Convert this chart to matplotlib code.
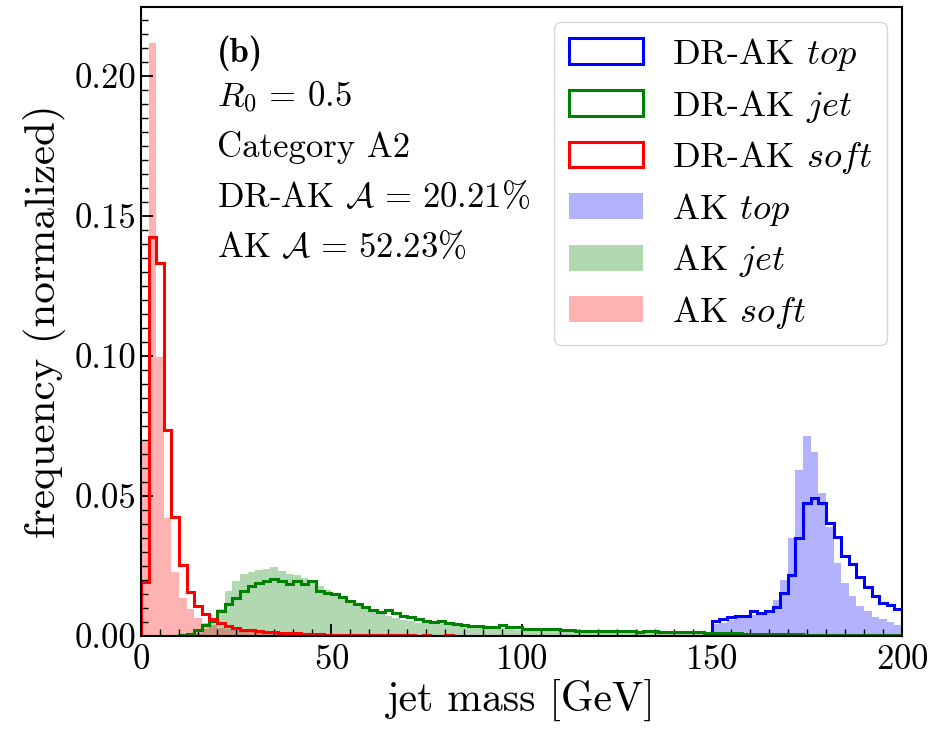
import numpy as np
import matplotlib
matplotlib.use("Agg")
import matplotlib.pyplot as plt
from matplotlib.ticker import MultipleLocator, FormatStrFormatter

plt.rcParams['font.family'] = 'serif'
plt.rcParams['font.serif'] = ['cmr10']
plt.rcParams['mathtext.fontset'] = 'cm'
plt.rcParams['axes.unicode_minus'] = False
plt.rcParams['axes.formatter.use_mathtext'] = True

# ---------------- data (normalized frequency per 2 GeV bin) ----------------
bin_edges = np.arange(0, 202, 2)          # 0..200 GeV, 100 bins
top_edges = np.arange(150, 202, 2)        # top-mass window 150..200 GeV, 25 bins

dr_soft = [0.0194, 0.1424, 0.1331, 0.0736, 0.0426, 0.0254, 0.0158, 0.0108, 0.0077, 0.0060,
           0.0045, 0.0036, 0.0029, 0.0023, 0.0020, 0.0017, 0.0015, 0.0013, 0.0011, 0.0010,
           0.0009, 0.0008, 0.0007, 0.0006, 0.0005, 0.0005, 0.0004, 0.0004, 0.0003, 0.0003,
           0.0003, 0.0002, 0.0003, 0.0002, 0.0002, 0.0002, 0.0001, 0.0002, 0.0001, 0.0001,
           0.0002, 0.0001, 0.0001, 0.0001, 0.0001, 0.0001, 0.0001, 0.0001, 0.0001, 0.0001,
           0.0001, 0.0001, 0.0001, 0.0000, 0.0001, 0.0000, 0.0001, 0.0000, 0.0000, 0.0001,
           0.0, 0.0, 0.0, 0.0, 0.0, 0.0, 0.0, 0.0, 0.0, 0.0,
           0.0, 0.0, 0.0, 0.0, 0.0, 0.0, 0.0, 0.0, 0.0, 0.0,
           0.0, 0.0, 0.0, 0.0, 0.0, 0.0, 0.0, 0.0, 0.0, 0.0,
           0.0, 0.0, 0.0, 0.0, 0.0, 0.0, 0.0, 0.0, 0.0, 0.0]

ak_soft = [0.0700, 0.2117, 0.0998, 0.0420, 0.0230, 0.0135, 0.0096, 0.0066, 0.0048, 0.0038,
           0.0030, 0.0026, 0.0022, 0.0019, 0.0015, 0.0012, 0.0010, 0.0008, 0.0007, 0.0006,
           0.0005, 0.0004, 0.0004, 0.0003, 0.0003, 0.0002, 0.0002, 0.0002, 0.0002, 0.0001,
           0.0001, 0.0001, 0.0001, 0.0001, 0.0001, 0.0001, 0.0001, 0.0001, 0.0001, 0.0001,
           0.0001, 0.0001, 0.0000, 0.0001, 0.0000, 0.0000, 0.0001, 0.0000, 0.0000, 0.0000,
           0.0, 0.0, 0.0, 0.0, 0.0, 0.0, 0.0, 0.0, 0.0, 0.0,
           0.0, 0.0, 0.0, 0.0, 0.0, 0.0, 0.0, 0.0, 0.0, 0.0,
           0.0, 0.0, 0.0, 0.0, 0.0, 0.0, 0.0, 0.0, 0.0, 0.0,
           0.0, 0.0, 0.0, 0.0, 0.0, 0.0, 0.0, 0.0, 0.0, 0.0,
           0.0, 0.0, 0.0, 0.0, 0.0, 0.0, 0.0, 0.0, 0.0, 0.0]

dr_jet = [0.0000, 0.0000, 0.0000, 0.0000, 0.0001, 0.0004, 0.0008, 0.0022, 0.0040, 0.0052,
          0.0091, 0.0115, 0.0135, 0.0160, 0.0178, 0.0188, 0.0197, 0.0203, 0.0196, 0.0187,
          0.0197, 0.0186, 0.0196, 0.0161, 0.0152, 0.0151, 0.0139, 0.0125, 0.0114, 0.0104,
          0.0094, 0.0087, 0.0093, 0.0081, 0.0071, 0.0067, 0.0061, 0.0053, 0.0050, 0.0053,
          0.0047, 0.0043, 0.0038, 0.0036, 0.0037, 0.0033, 0.0033, 0.0038, 0.0033, 0.0031,
          0.0025, 0.0025, 0.0025, 0.0024, 0.0024, 0.0023, 0.0020, 0.0019, 0.0019, 0.0019,
          0.0018, 0.0018, 0.0017, 0.0017, 0.0017, 0.0016, 0.0018, 0.0017, 0.0016, 0.0016,
          0.0015, 0.0014, 0.0013, 0.0013, 0.0012, 0.0011, 0.0010, 0.0009, 0.0009, 0.0008,
          0.0008, 0.0007, 0.0008, 0.0007, 0.0006, 0.0006, 0.0006, 0.0005, 0.0005, 0.0005,
          0.0005, 0.0004, 0.0004, 0.0004, 0.0004, 0.0003, 0.0004, 0.0003, 0.0003, 0.0003]

ak_jet = [0.0000, 0.0000, 0.0000, 0.0000, 0.0001, 0.0002, 0.0005, 0.0012, 0.0025, 0.0048,
          0.0095, 0.0160, 0.0195, 0.0220, 0.0230, 0.0236, 0.0240, 0.0245, 0.0232, 0.0222,
          0.0218, 0.0208, 0.0200, 0.0180, 0.0165, 0.0152, 0.0135, 0.0124, 0.0113, 0.0102,
          0.0090, 0.0078, 0.0072, 0.0065, 0.0058, 0.0052, 0.0048, 0.0046, 0.0045, 0.0044,
          0.0041, 0.0038, 0.0035, 0.0030, 0.0028, 0.0027, 0.0027, 0.0028, 0.0027, 0.0022,
          0.0019, 0.0019, 0.0018, 0.0018, 0.0017, 0.0016, 0.0016, 0.0016, 0.0015, 0.0015,
          0.0014, 0.0014, 0.0014, 0.0013, 0.0013, 0.0013, 0.0012, 0.0012, 0.0012, 0.0011,
          0.0011, 0.0010, 0.0010, 0.0009, 0.0009, 0.0008, 0.0008, 0.0008, 0.0007, 0.0007,
          0.0006, 0.0006, 0.0006, 0.0005, 0.0005, 0.0005, 0.0005, 0.0004, 0.0004, 0.0004,
          0.0004, 0.0003, 0.0003, 0.0003, 0.0003, 0.0003, 0.0003, 0.0003, 0.0003, 0.0003]

dr_top = [0.0054, 0.0060, 0.0069, 0.0071, 0.0071, 0.0090, 0.0083, 0.0090, 0.0102, 0.0152,
          0.0218, 0.0349, 0.0476, 0.0494, 0.0474, 0.0402, 0.0355, 0.0286, 0.0257, 0.0212,
          0.0176, 0.0144, 0.0119, 0.0111, 0.0095]

ak_top = [0.0043, 0.0045, 0.0057, 0.0067, 0.0070, 0.0076, 0.0082, 0.0090, 0.0129, 0.0200,
          0.0349, 0.0593, 0.0714, 0.0658, 0.0512, 0.0390, 0.0261, 0.0190, 0.0143, 0.0107,
          0.0090, 0.0067, 0.0060, 0.0050, 0.0038]

labels_dr = [r'DR-AK $top$', r'DR-AK $jet$', r'DR-AK $soft$']
labels_ak = [r'AK $top$', r'AK $jet$', r'AK $soft$']
panel_label = '(b)'
info_lines = [r'$R_0\,=\,0.5$', 'Category A2',
              r'DR-AK $\mathcal{A}\,{=}\,20.21\%$', r'AK $\mathcal{A}\,{=}\,52.23\%$']

# ---------------- plot ----------------
fig = plt.figure(figsize=(9.31, 7.31), dpi=100)
ax = fig.add_axes([141/931, 95/731, 761/931, 629/731])

centers = 0.5 * (bin_edges[:-1] + bin_edges[1:])
top_centers = 0.5 * (top_edges[:-1] + top_edges[1:])

_, _, p_ak_top = ax.hist(top_centers, bins=top_edges, weights=ak_top, color='blue', alpha=0.3, histtype='stepfilled')
_, _, p_ak_jet = ax.hist(centers, bins=bin_edges, weights=ak_jet, color='green', alpha=0.3, histtype='stepfilled')
_, _, p_ak_soft = ax.hist(centers, bins=bin_edges, weights=ak_soft, color='red', alpha=0.3, histtype='stepfilled')
_, _, p_dr_top = ax.hist(top_centers, bins=top_edges, weights=dr_top, color='blue', lw=2.2, histtype='step')
_, _, p_dr_jet = ax.hist(centers, bins=bin_edges, weights=dr_jet, color='green', lw=2.2, histtype='step')
_, _, p_dr_soft = ax.hist(centers, bins=bin_edges, weights=dr_soft, color='red', lw=2.2, histtype='step')

ax.set_xlim(0, 200)
ax.set_ylim(0, 0.2246)
ax.xaxis.set_major_locator(MultipleLocator(50))
ax.xaxis.set_minor_locator(MultipleLocator(5))
ax.yaxis.set_major_locator(MultipleLocator(0.05))
ax.yaxis.set_minor_locator(MultipleLocator(0.005))
ax.yaxis.set_major_formatter(FormatStrFormatter('%.2f'))
ax.tick_params(which='both', direction='in', labelsize=25)
ax.tick_params(axis='x', which='major', pad=6)
ax.tick_params(which='major', length=8.5, width=1.3)
ax.tick_params(which='minor', length=4.8, width=1.0)
for s in ax.spines.values():
    s.set_linewidth(1.5)

ax.set_xlabel('jet mass [GeV]', fontsize=30, labelpad=2)
ax.set_ylabel('frequency (normalized)', fontsize=31, labelpad=6)

handles = [p_dr_top[0], p_dr_jet[0], p_dr_soft[0], p_ak_top[0], p_ak_jet[0], p_ak_soft[0]]
ax.legend(handles, labels_dr + labels_ak, loc='upper right', fontsize=26.2,
          handlelength=2.05, handleheight=0.72, labelspacing=0.4, borderaxespad=0.4)

ax.text(0.0995, 0.9126, panel_label, transform=ax.transAxes, fontsize=25,
        va='baseline', ha='left', family='cmb10')
ys = [0.841, 0.7615, 0.682, 0.6025]
for t, y in zip(info_lines, ys):
    ax.text(0.0995, y, t, transform=ax.transAxes, fontsize=25, va='baseline', ha='left')

fig.savefig('out.png', dpi=100)
